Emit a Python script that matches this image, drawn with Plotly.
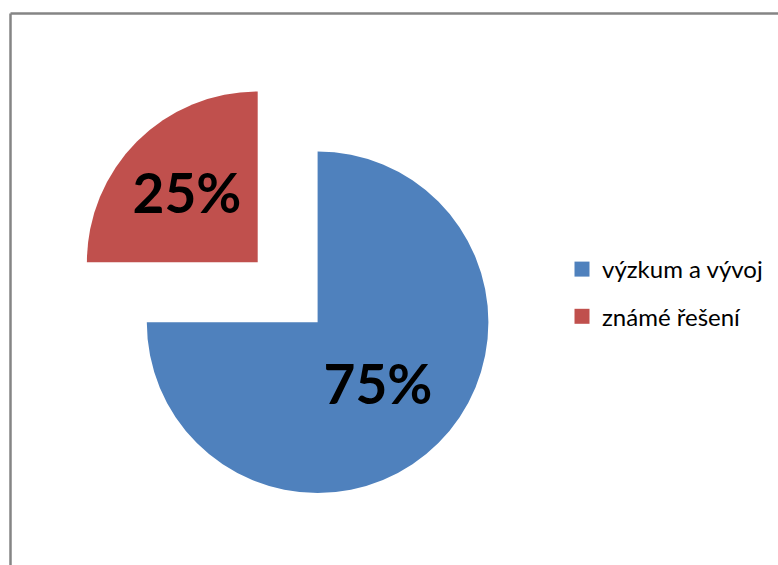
import plotly.graph_objects as go

# ---- data ----
categories = ["výzkum a vývoj", "známé řešení"]
values = [75, 25]
colors = ["#4F81BD", "#C0504D"]

# ---- layout geometry (pixels) ----
W, H = 778, 565
R = 170.8
main_center = (317.6, 322.3)      # centre of the large slice
pulled_center = (257.7, 262.3)    # centre of the exploded slice

def domain(center):
    cx, cy = center
    return dict(x=[(cx - R) / W, (cx + R) / W],
                y=[1 - (cy + R) / H, 1 - (cy - R) / H])

TRANSPARENT = "rgba(0,0,0,0)"
label_font = dict(family="Lato", size=55, color="black", weight="bold")

fig = go.Figure()

# each slice drawn from the same data, one per trace, so the exploded one can be offset
for k, center in enumerate([main_center, pulled_center]):
    slice_colors = [colors[i] if i == k else TRANSPARENT for i in range(len(values))]
    templates = ["%{percent:.0%}" if i == k else "" for i in range(len(values))]
    fig.add_trace(go.Pie(
        labels=categories,
        values=values,
        sort=False,
        direction="clockwise",
        rotation=0,
        marker=dict(colors=slice_colors, line=dict(width=0)),
        texttemplate=templates,
        textposition="inside",
        insidetextorientation="horizontal",
        textfont=label_font,
        domain=domain(center),
        showlegend=False,
        hoverinfo="label+percent",
    ))

# legend entries
for i, (cat, col) in enumerate(zip(categories, colors)):
    fig.add_trace(go.Scatter(
        x=[None], y=[None], mode="markers", name=cat,
        legendgroup=f"g{i}",
        marker=dict(symbol="square", size=15, color=col),
        showlegend=True,
    ))

fig.update_layout(
    width=W, height=H,
    margin=dict(l=0, r=0, t=0, b=0),
    paper_bgcolor="white",
    plot_bgcolor="white",
    xaxis=dict(visible=False),
    yaxis=dict(visible=False),
    legend=dict(
        x=562 / W, xanchor="left",
        y=1 - 247 / H, yanchor="top",
        traceorder="grouped",
        tracegroupgap=13,
        font=dict(family="Lato", size=24, color="black"),
        bgcolor="rgba(0,0,0,0)",
    ),
    shapes=[
        dict(type="line", xref="paper", yref="paper",
             x0=10.5 / W, x1=1, y0=1 - 13.5 / H, y1=1 - 13.5 / H,
             line=dict(color="#858585", width=2.5)),
        dict(type="line", xref="paper", yref="paper",
             x0=10.5 / W, x1=10.5 / W, y0=0, y1=1 - 13.5 / H,
             line=dict(color="#858585", width=2.5)),
    ],
)

fig.write_html(
    "out.html",
    config={"displayModeBar": False},
    post_script="document.body.style.margin='0';document.body.style.overflow='hidden';",
)
